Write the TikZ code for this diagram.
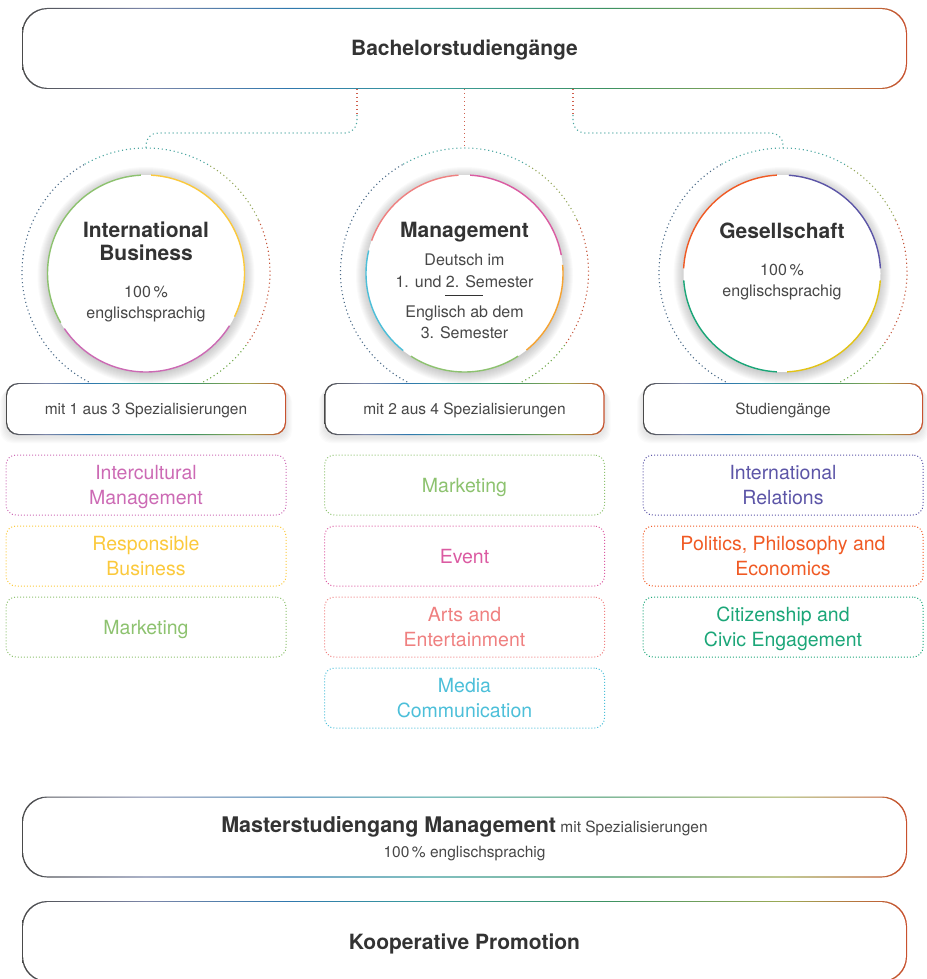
\documentclass[tikz,border=0pt]{standalone}
\usepackage{fontspec}
\setmainfont{TeX Gyre Heros}
\usetikzlibrary{positioning,backgrounds}

\definecolor{txtdark}{HTML}{333333}
\definecolor{txtgray}{HTML}{474747}
% border gradient
\definecolor{rbA}{HTML}{4A4A4A}
\definecolor{rbB}{HTML}{7C86A8}
\definecolor{rbC}{HTML}{2F78AE}
\definecolor{rbD}{HTML}{3A9C9C}
\definecolor{rbE}{HTML}{3C9262}
\definecolor{rbF}{HTML}{9CAA55}
\definecolor{rbG}{HTML}{C8502E}
% segment colours
\definecolor{ibgreen}{HTML}{8DC26F}
\definecolor{ibpink}{HTML}{CC6AB4}
\definecolor{ibyellow}{HTML}{FBC93C}
\definecolor{mgsalmon}{HTML}{EF8080}
\definecolor{mgcyan}{HTML}{4CBFD9}
\definecolor{mgorange}{HTML}{F6A331}
\definecolor{mgmagenta}{HTML}{DB5BA2}
\definecolor{gsorange}{HTML}{F05A24}
\definecolor{gsgreen}{HTML}{1BA678}
\definecolor{gsyellow}{HTML}{E3C416}
\definecolor{gsblue}{HTML}{5C55A7}
% dotted ring colours
\definecolor{ringgreen}{HTML}{6FA84A}
\definecolor{ringred}{HTML}{C4553A}
\definecolor{ringolive}{HTML}{94A65A}
\definecolor{ringteal}{HTML}{4AA5A0}
\definecolor{ringslate}{HTML}{4B6A88}
\definecolor{conred}{HTML}{D0604E}

\pgfdeclarehorizontalshading{rainbowline}{100bp}{color(0bp)=(rbA); color(25bp)=(rbA); color(32bp)=(rbB); color(40bp)=(rbC); color(48bp)=(rbD); color(58bp)=(rbE); color(68bp)=(rbF); color(75bp)=(rbG); color(100bp)=(rbG)}

\begin{document}
\begin{tikzpicture}[x=1pt, y=1pt,
    rbox/.style={rectangle, rounded corners=#1, shade, shading=rainbowline, inner sep=0pt, outer sep=0pt,
      path picture={\fill[white, rounded corners=#1] ([shift={(1.1pt,-1.1pt)}]path picture bounding box.north west) rectangle ([shift={(-1.1pt,1.1pt)}]path picture bounding box.south east);}},
    bigbox/.style={rbox=25pt, minimum width=885pt, minimum height=81pt, text=txtdark, font=\fontsize{21}{23}\selectfont\bfseries},
    boxtext/.style={text height=15pt, text depth=0pt},
    subbox/.style={rbox=12pt, minimum width=280pt, minimum height=52pt, text=txtgray, font=\fontsize{15.5}{20}\selectfont, text height=10pt, text depth=0pt},
    spec/.style={draw=#1, text=#1, rounded corners=10pt, line width=1pt, dash pattern=on 1pt off 2pt, outer sep=0pt, minimum width=280pt, minimum height=60pt, align=center, font=\fontsize{19.5}{25}\selectfont, text depth=0pt},
    disc/.style={circle, fill=white, minimum size=197pt, inner sep=0pt, outer sep=0pt},
    ring/.style={circle, minimum size=248pt, inner sep=0pt, outer sep=0pt},
    seg/.style={line width=1.4pt},
    dots/.style={line width=1.1pt, dash pattern=on 1.1pt off 2.9pt},
    title/.style={text=txtdark, font=\fontsize{21}{23}\selectfont\bfseries, align=center, inner sep=0pt},
    body/.style={text=txtgray, font=\fontsize{16}{21}\selectfont, align=center, inner sep=0pt}]

  \useasboundingbox (0,0) rectangle (926,-979);

  \node[bigbox, boxtext] (bach) at (464.5,-48.5) {Bachelorstudiengänge};

  % dotted rings and discs
  \node[ring] (ibring) at (146,-272) {};
  \node[ring] (mgring) at (464.5,-272) {};
  \node[ring] (gsring) at (783,-272) {};
  \foreach \n in {ibring, mgring, gsring}
    \foreach \s/\e/\c in {-62.5/-35/ringgreen, -35/25/ringred, 25/60/ringolive, 60/120/ringteal, 120/242.5/ringslate}
      \draw[dots, \c] ([shift={(\s:124)}]\n.center) arc[start angle=\s, end angle=\e, radius=124];

  \node[disc] (ib) at (146,-273.5) {};
  \node[disc] (mg) at (464.5,-273.5) {};
  \node[disc] (gs) at (782,-273.5) {};

  \begin{scope}[on background layer]
    \foreach \n in {ib, mg, gs}
      \foreach \r in {1,...,11}
        \fill[black, opacity=0.018] ([yshift=-2pt]\n.center) circle (97.5+\r);
  \end{scope}

  \foreach \s/\e/\c in {93/210/ibgreen, 214/328/ibpink, 334/447/ibyellow}
    \draw[seg, \c] ([shift={(\s:98.5)}]ib.center) arc[start angle=\s, end angle=\e, radius=98.5];
  \foreach \s/\e/\c in {93.5/160.5/mgsalmon, 166.5/231.5/mgcyan, 237/303/ibgreen, 309/365/mgorange, 10.8/86.7/mgmagenta}
    \draw[seg, \c] ([shift={(\s:98.5)}]mg.center) arc[start angle=\s, end angle=\e, radius=98.5];
  \foreach \s/\e/\c in {93/177/gsorange, 184/267/gsgreen, 273/356/gsyellow, 3/86/gsblue}
    \draw[seg, \c] ([shift={(\s:98.5)}]gs.center) arc[start angle=\s, end angle=\e, radius=98.5];

  % texts in the discs
  \node[title, anchor=north] (ibtitle) at (146,-222) {International\\Business};
  \node[body, anchor=north] (ibtext) at (146,-285.5) {100\,\%\\englischsprachig};
  \node[title, anchor=base] (mgtitle) at (464.5,-237) {Management};
  \node[body, anchor=north, font=\fontsize{16}{22}\selectfont] (mgde) at (464.5,-253.5) {Deutsch im\\1. und 2. Semester};
  \draw[txtdark, line width=0.8pt] (445,-295) -- (483,-295);
  \node[body, anchor=north] (mgen) at (464.5,-305.5) {Englisch ab dem\\3. Semester};
  \node[title, anchor=base] (gstitle) at (782,-238) {Gesellschaft};
  \node[body, anchor=north] (gstext) at (782,-263.5) {100\,\%\\englischsprachig};

  % connectors
  \draw[dots, conred] (bach.south) -- (mgring.north);
  \draw[dots, conred] ([xshift=-107.5pt]bach.south) -- ++(0,-26) coordinate (lbend);
  \draw[dots, ringteal, rounded corners=12pt] (lbend) -- ++(0,-18) -| (ibring.north);
  \draw[dots, conred] ([xshift=108.5pt]bach.south) -- ++(0,-26) coordinate (rbend);
  \draw[dots, ringteal, rounded corners=12pt] (rbend) -- ++(0,-18) -| (gsring.north);

  % sub boxes
  \node[subbox] (ibsub) at (146,-409) {mit 1 aus 3 Spezialisierungen};
  \node[subbox] (mgsub) at (464.5,-409) {mit 2 aus 4 Spezialisierungen};
  \node[subbox] (gssub) at (783,-409) {Studiengänge};
  \begin{scope}[on background layer]
    \foreach \n in {ibsub, mgsub, gssub}
      \foreach \r in {1,...,6}
        \fill[black, opacity=0.015, rounded corners=12pt] ([shift={({-\r},{-\r-1})}]\n.north west) rectangle ([shift={(\r,{-\r-2})}]\n.south east);
  \end{scope}

  % specialisations
  \node[spec=ibpink, below=20pt of ibsub] (ibs1) {Intercultural\\Management};
  \node[spec=ibyellow, below=11pt of ibs1] (ibs2) {Responsible\\Business};
  \node[spec=ibgreen, below=11pt of ibs2] (ibs3) {Marketing};

  \node[spec=ibgreen, below=20pt of mgsub] (mgs1) {Marketing};
  \node[spec=mgmagenta, below=11pt of mgs1] (mgs2) {Event};
  \node[spec=mgsalmon, below=11pt of mgs2] (mgs3) {Arts and\\Entertainment};
  \node[spec=mgcyan, below=11pt of mgs3] (mgs4) {Media\\Communication};

  \node[spec=gsblue, below=20pt of gssub] (gss1) {International\\Relations};
  \node[spec=gsorange, below=11pt of gss1] (gss2) {Politics, Philosophy and\\Economics};
  \node[spec=gsgreen, below=11pt of gss2] (gss3) {Citizenship and\\Civic Engagement};

  % master and promotion
  \node[bigbox, align=center, text=txtgray, font=\fontsize{15.5}{24.5}\selectfont, text depth=0pt] (master) at (464.5,-837)
    {{\color{txtdark}\fontsize{21.5}{24.5}\selectfont\bfseries Masterstudiengang Management} mit Spezialisierungen\\100\,\% englischsprachig};
  \node[bigbox, boxtext] (koop) at (464.5,-941.5) {Kooperative Promotion};
\end{tikzpicture}
\end{document}
